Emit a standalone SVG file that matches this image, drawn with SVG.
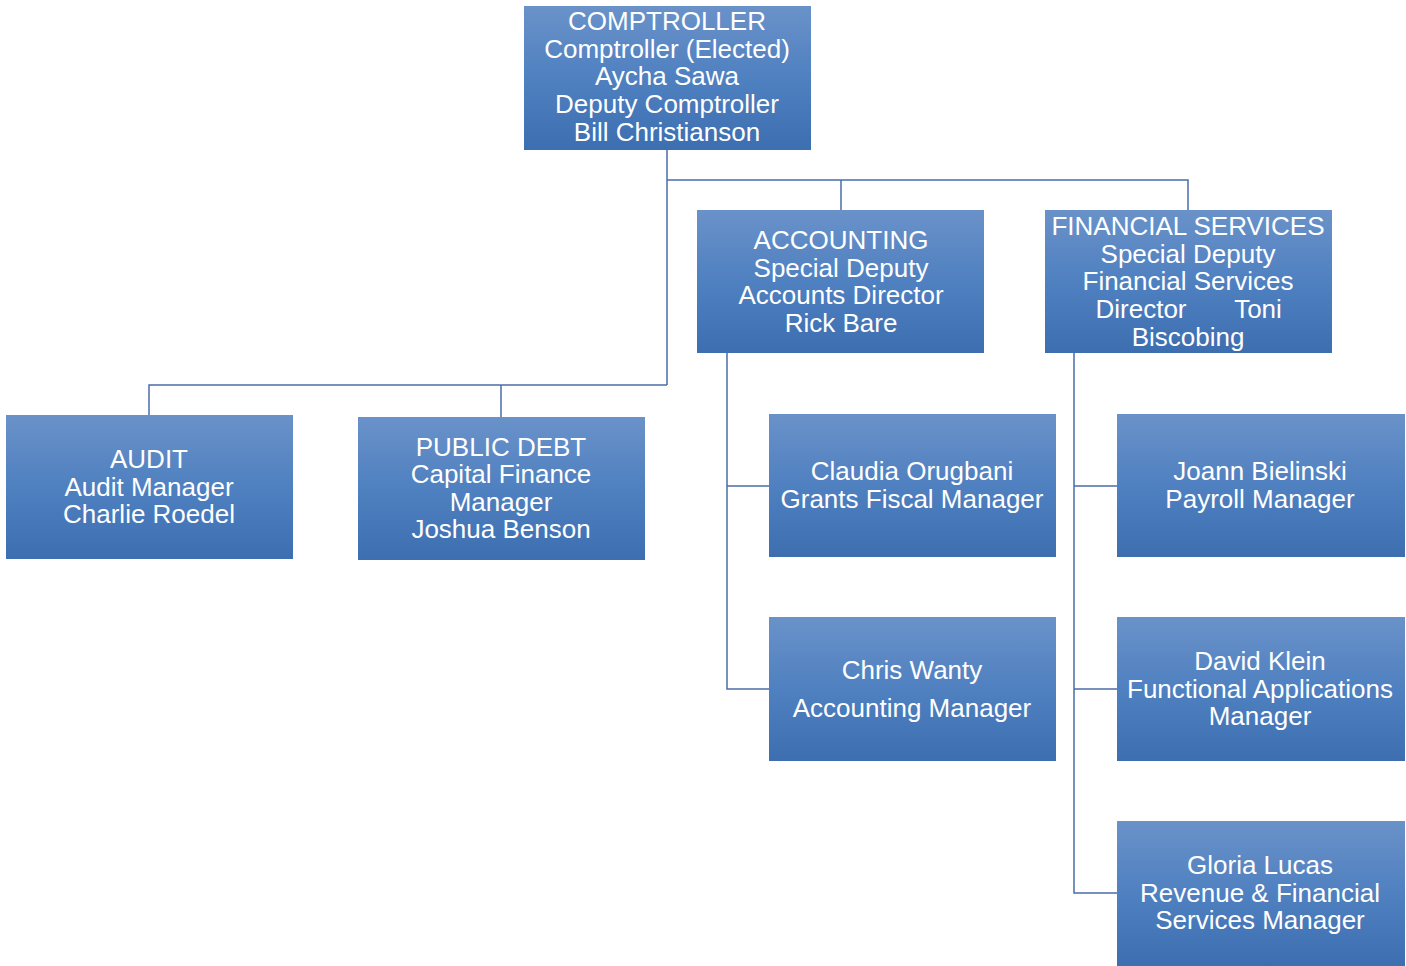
<svg xmlns="http://www.w3.org/2000/svg" width="1406" height="966" viewBox="0 0 1406 966">
<style>
.box{fill:url(#g)}
text{font-family:"Liberation Sans",Arial,sans-serif;font-size:26px;fill:#fff;text-anchor:middle}
.c{fill:none;stroke:#4a6ea8;stroke-width:1.5}
</style>
<defs>
<linearGradient id="g" x1="0" y1="0" x2="0" y2="1">
<stop offset="0" stop-color="#6a92c9"/>
<stop offset="0.5" stop-color="#4f80c0"/>
<stop offset="1" stop-color="#3d6eb0"/>
</linearGradient>
</defs>
<rect width="1406" height="966" fill="#fff"/>
<g id="connectors">
<path class="c" d="M667 150V385M667 180H1188V210M841 180V210M667 385H149V415M501 385V417"/>
<path class="c" d="M727 353V689H769M727 486H769"/>
<path class="c" d="M1074 353V893H1117M1074 486H1117M1074 689H1117"/>
</g>
<g id="comptroller">
<rect class="box" x="524" y="6" width="287" height="144"/>
<text x="667" y="30">COMPTROLLER</text>
<text x="667" y="58">Comptroller (Elected)</text>
<text x="667" y="85">Aycha Sawa</text>
<text x="667" y="113">Deputy Comptroller</text>
<text x="667" y="141">Bill Christianson</text>
</g>
<g id="accounting">
<rect class="box" x="697" y="210" width="287" height="143"/>
<text x="841" y="249">ACCOUNTING</text>
<text x="841" y="277">Special Deputy</text>
<text x="841" y="304">Accounts Director</text>
<text x="841" y="332">Rick Bare</text>
</g>
<g id="financial">
<rect class="box" x="1045" y="210" width="287" height="143"/>
<text x="1188" y="235">FINANCIAL SERVICES</text>
<text x="1188" y="263">Special Deputy</text>
<text x="1188" y="290">Financial Services</text>
<text x="1141" y="318">Director</text>
<text x="1258" y="318">Toni</text>
<text x="1188" y="346">Biscobing</text>
</g>
<g id="audit">
<rect class="box" x="6" y="415" width="287" height="144"/>
<text x="149" y="468">AUDIT</text>
<text x="149" y="496">Audit Manager</text>
<text x="149" y="523">Charlie Roedel</text>
</g>
<g id="publicdebt">
<rect class="box" x="358" y="417" width="287" height="143"/>
<text x="501" y="456">PUBLIC DEBT</text>
<text x="501" y="483">Capital Finance</text>
<text x="501" y="511">Manager</text>
<text x="501" y="538">Joshua Benson</text>
</g>
<g id="claudia">
<rect class="box" x="769" y="414" width="287" height="143"/>
<text x="912" y="480">Claudia Orugbani</text>
<text x="912" y="508">Grants Fiscal Manager</text>
</g>
<g id="chris">
<rect class="box" x="769" y="617" width="287" height="144"/>
<text x="912" y="679">Chris Wanty</text>
<text x="912" y="717">Accounting Manager</text>
</g>
<g id="joann">
<rect class="box" x="1117" y="414" width="288" height="143"/>
<text x="1260" y="480">Joann Bielinski</text>
<text x="1260" y="508">Payroll Manager</text>
</g>
<g id="david">
<rect class="box" x="1117" y="617" width="288" height="144"/>
<text x="1260" y="670">David Klein</text>
<text x="1260" y="698">Functional Applications</text>
<text x="1260" y="725">Manager</text>
</g>
<g id="gloria">
<rect class="box" x="1117" y="821" width="288" height="145"/>
<text x="1260" y="874">Gloria Lucas</text>
<text x="1260" y="902">Revenue &amp; Financial</text>
<text x="1260" y="929">Services Manager</text>
</g>
</svg>
